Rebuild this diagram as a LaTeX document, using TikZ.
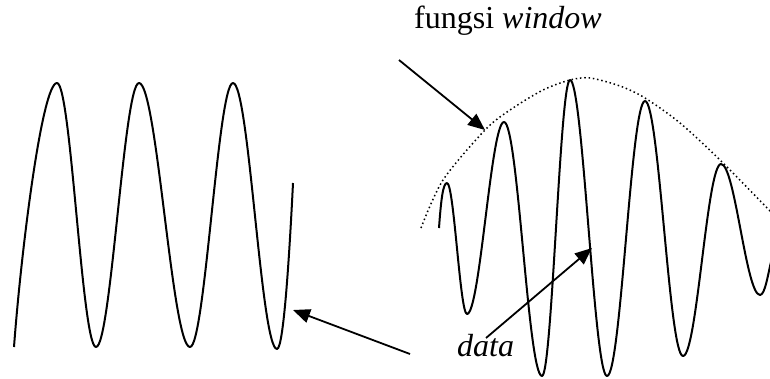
\documentclass[tikz,border=0pt]{standalone}
\usepackage{fontspec}
\setmainfont{Liberation Serif}
\usepackage{xcolor}
\definecolor{cInk}{HTML}{000000}
\usepackage{tikz}
\usetikzlibrary{positioning,arrows.meta,calc}
\tikzset{
  wave-line/.style={draw=cInk,line width=2pt,line join=round},
  envelope/.style={draw=cInk,line width=1.5pt,dash pattern=on 1.5pt off 2.8pt},
  arrow/.style={-{Triangle[length=17pt,width=14pt]},line width=1.8pt,draw=cInk},
  label-text/.style={inner sep=0pt,anchor=base west,font=\fontsize{32}{36}\selectfont},
}
\begin{document}
\begin{tikzpicture}[x=1pt,y=-1pt]
  \useasboundingbox (0,0) rectangle (770,378);
  % sinyal asli
  \draw[wave-line] (14,347) .. controls +(7,-95) and +(-15,0) .. (57,83)
    .. controls +(14,0) and +(-14,0) .. (96,347)
    .. controls +(15,0) and +(-15,0) .. (139,83)
    .. controls +(18,0) and +(-18,0) .. (190,347)
    .. controls +(15,0) and +(-15,0) .. (233,83)
    .. controls +(16,0) and +(-16,0) .. (277,349)
    .. controls +(7,0) and +(-3,60) .. (293,183);
  % sinyal setelah di-window
  \draw[wave-line] (439,228) .. controls +(2,-28) and +(-4,0) .. (447,183)
    .. controls +(7,0) and +(-7,0) .. (467,314)
    .. controls +(13,0) and +(-13,0) .. (504,122)
    .. controls +(14,0) and +(-14,0) .. (542,376)
    .. controls +(10,0) and +(-10,0) .. (570,80)
    .. controls +(13,0) and +(-13,0) .. (607,376)
    .. controls +(14,0) and +(-14,0) .. (645,101)
    .. controls +(14,0) and +(-14,0) .. (683,356)
    .. controls +(14,0) and +(-14,0) .. (721,164)
    .. controls +(14,0) and +(-14,0) .. (760,295)
    .. controls +(5,0) and +(-3,12) .. (771,262);
  \draw[envelope] plot[smooth] coordinates {(421,228) (443,180) (485,130)
    (510,110) (543,90) (570,80) (590,78) (620,86) (645,98) (680,123)
    (720,160) (770,211)};
  \node[label-text] (winLabel) at (414,28) {fungsi \textit{window}};
  \node[label-text] (data) at (457,356) {\textit{data}};
  \coordinate (winTail) at (399,60);
  \coordinate (winTip) at (485,130);
  \coordinate (dataTail) at (486,338);
  \coordinate (dataTip) at (592,248);
  \coordinate (origTail) at (410,354);
  \coordinate (origTip) at (293,310);
  \draw[arrow] (winTail) -- (winTip);
  \draw[arrow] (dataTail) -- (dataTip);
  \draw[arrow] (origTail) -- (origTip);
\end{tikzpicture}
\end{document}
